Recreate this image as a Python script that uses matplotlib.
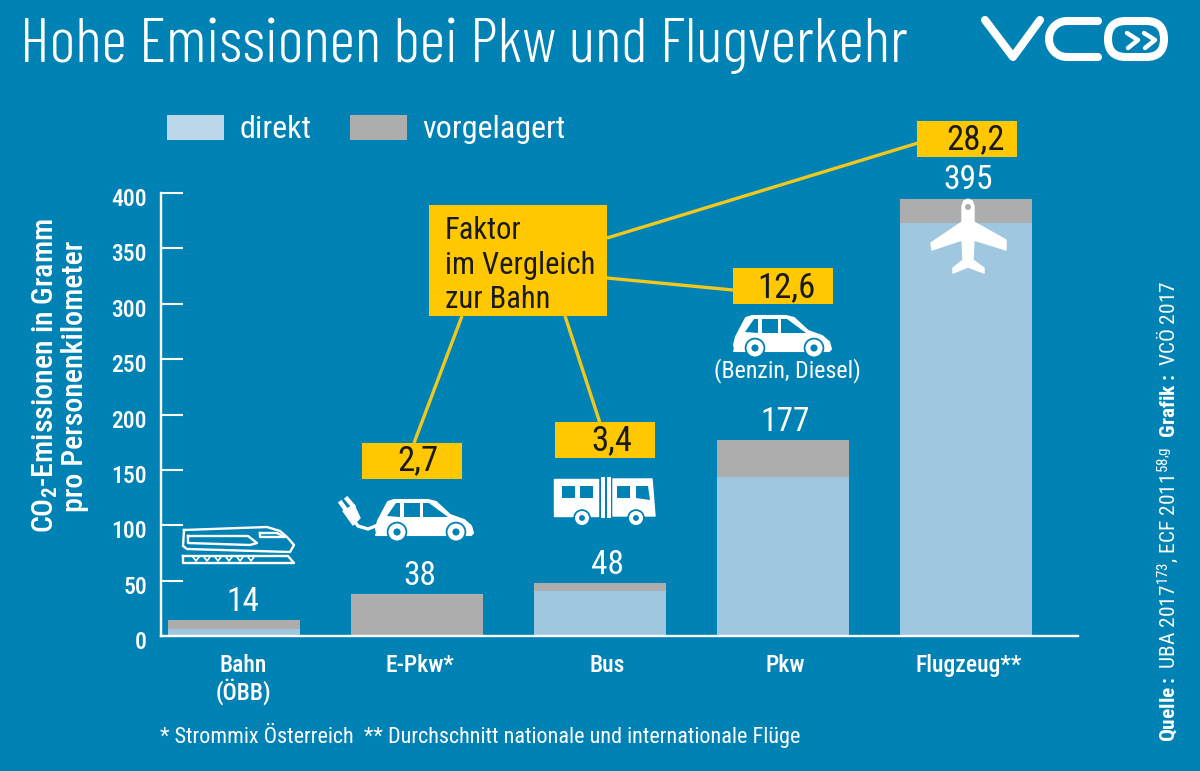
import numpy as np
import matplotlib
matplotlib.use('Agg')
import matplotlib.pyplot as plt
from matplotlib.patches import Polygon, Circle, Rectangle, FancyBboxPatch
from matplotlib.transforms import ScaledTranslation

plt.rcParams['font.family'] = ['Roboto Condensed', 'Roboto', 'DejaVu Sans']
plt.rcParams['mathtext.fontset'] = 'custom'
plt.rcParams['mathtext.rm'] = 'Roboto Condensed'
plt.rcParams['mathtext.bf'] = 'Roboto Condensed:bold'
plt.rcParams['mathtext.default'] = 'regular'

# data
categories = ['Bahn\n(ÖBB)', 'E-Pkw*', 'Bus', 'Pkw', 'Flugzeug**']
direkt = [6, 0, 41, 144, 373]
vorgelagert = [8, 38, 7, 33, 22]
totals = [14, 38, 48, 177, 395]
y_ticks = [0, 50, 100, 150, 200, 250, 300, 350, 400]
factors = ['2,7', '3,4', '12,6', '28,2']

BG = '#0082B4'
YELLOW = '#FFC800'
LINE_YELLOW = '#F0C81E'
C_DIREKT = '#9FC8E0'
C_VOR = '#ADADAD'
W, H = 1200, 771

fig = plt.figure(figsize=(12, 7.71), dpi=100, facecolor=BG)

# chart axes, placed in pixels of the 1200x771 image
ax = fig.add_axes([161 / W, 1 - 636 / H, (1078 - 161) / W, (636 - 193) / H], facecolor='none')
x = np.arange(len(categories))
ax.bar(x, direkt, width=0.72, color=C_DIREKT, label='direkt', zorder=2)
ax.bar(x, vorgelagert, width=0.72, bottom=direkt, color=C_VOR, label='vorgelagert', zorder=2)
ax.set_xlim(-0.399, 4.61)
ax.set_ylim(0, 400)

for s in ['top', 'right']:
    ax.spines[s].set_visible(False)
for s in ['left', 'bottom']:
    ax.spines[s].set_color('white')
    ax.spines[s].set_linewidth(1.7)
    ax.spines[s].set_zorder(3)

ax.set_yticks(y_ticks)
ax.tick_params(axis='y', direction='in', length=16, width=1.5, color='white',
               labelcolor='white', labelsize=17, pad=10)
ax.set_xticks(x)
ax.set_xticklabels(categories, fontsize=17, color='white', linespacing=1.05, fontweight='medium')
ax.tick_params(axis='x', length=0, pad=13)

# labels in the original sit a little off the ticks and bar centres
for lab in ax.get_yticklabels():
    lab.set_fontweight('medium')
    lab.set_transform(lab.get_transform() + ScaledTranslation(0, -4 / 100, fig.dpi_scale_trans))
label_dx = [9, 3, 7, 2, 2]
for lab, dx in zip(ax.get_xticklabels(), label_dx):
    lab.set_transform(lab.get_transform() + ScaledTranslation(dx / 100, 0, fig.dpi_scale_trans))

for xi, t, dx in zip(x, totals, label_dx):
    ax.annotate(str(t), (xi, t), xytext=(dx * 0.72, 13), textcoords='offset points',
                ha='center', va='center', color='white', fontsize=24, zorder=6)

ax.legend(loc='upper left', bbox_to_anchor=(167 / W, 1 - 115 / H), bbox_transform=fig.transFigure,
          ncols=2, frameon=False, fontsize=23, labelcolor='white', borderpad=0, borderaxespad=0,
          handlelength=1.78, handleheight=0.81, handletextpad=0.5, columnspacing=1.19)
ax.get_legend().get_patches()[0].set_facecolor('#BDD7EA')

# overlay in pixel coordinates for callouts, icons and notes
ov = fig.add_axes([0, 0, 1, 1], facecolor='none')
ov.set_xlim(0, W)
ov.set_ylim(H, 0)
ov.axis('off')

fig.text(20 / W, 1 - 62 / H, 'Hohe Emissionen bei Pkw und Flugverkehr', color='white',
         family=['Barlow Condensed', 'Roboto Condensed', 'DejaVu Sans'], weight=300,
         fontsize=45.2, ha='left', va='baseline')

fig.text(60 / W, 1 - 376 / H, 'CO$_{\\mathbf{2}}$-Emissionen in Gramm\npro Personenkilometer',
         rotation=90, color='white', fontsize=21.5, fontweight='medium', ha='center', va='center',
         linespacing=1.05, multialignment='center')
fig.text(160 / W, 1 - 735 / H, '* Strommix Österreich  ** Durchschnitt nationale und internationale Flüge',
         color='white', fontsize=15.9, ha='left', va='center')
fig.text(1168 / W, 1 - 742 / H,
         '$\\mathbf{Quelle{:}}$ UBA 2017$^{173}$, ECF 2011$^{58{,}g}$  $\\mathbf{Grafik{:}}$ VCÖ 2017',
         rotation=90, color='white', fontsize=15.4, ha='center', va='bottom')
ov.text(787, 371, '(Benzin, Diesel)', color='white', fontsize=17.3, ha='center', va='center', zorder=7)

# yellow callouts
for x0, y0, x1, y1 in [(607, 238, 918, 143), (607, 278, 733, 290), (462, 316, 414, 443), (565, 316, 600, 423)]:
    ov.plot([x0, x1], [y0, y1], color=LINE_YELLOW, lw=2.4, zorder=3, solid_capstyle='butt')
ov.add_patch(Rectangle((429, 205), 178, 111, color=YELLOW, lw=0, zorder=4))
ov.text(445, 265, 'Faktor\nim Vergleich\nzur Bahn', color='#1A1A1A', fontsize=22, va='center', ha='left',
        linespacing=1.25, zorder=5)
for (bx, by), (tx, ty), f in zip([(362, 443), (555, 422), (733, 268), (917, 121)],
                                 [(418, 461), (612, 441), (787, 288), (976, 140)], factors):
    ov.add_patch(Rectangle((bx, by), 100, 36, color=YELLOW, lw=0, zorder=4))
    ov.text(tx, ty, f, color='#1A1A1A', fontsize=25, ha='center', va='center', zorder=5)


def poly(pts, color='white', lw=0.5, z=7):
    ov.add_patch(Polygon(pts, closed=True, facecolor=color, edgecolor=color, lw=lw,
                         joinstyle='round', zorder=z))


def wheel(cx, cy, r=8.5):
    ov.add_patch(Circle((cx, cy), r + 1.8, color=BG, lw=0, zorder=8))
    ov.add_patch(Circle((cx, cy), r, color='white', lw=0, zorder=9))
    ov.add_patch(Circle((cx, cy), r * 0.42, color=BG, lw=0, zorder=10))


def car(x0, y0):
    body = [(1, 34), (0, 30), (2, 22), (12, 3), (18, 1), (52, 1), (60, 3), (74, 16), (88, 21), (95, 27),
            (97, 34), (95, 36), (0, 36)]
    poly([(x0 + a, y0 + b) for a, b in body], lw=1.5)
    for win in [[(11, 17), (20, 4), (24, 4), (24, 18)], [(28, 4), (44, 4), (44, 18), (28, 18)],
                [(47, 4), (53, 4), (72, 18), (47, 18)]]:
        poly([(x0 + a, y0 + b) for a, b in win], color=BG, lw=0, z=8)
    wheel(x0 + 21, y0 + 33)
    wheel(x0 + 80, y0 + 33)


car(734, 315)
car(376, 499)

# plug and cord of the e-car
ov.plot([352, 358, 368, 378], [518, 526, 529, 525], color='white', lw=2.4, zorder=7)
poly([(343, 511), (354, 505), (360, 518), (353, 525)], lw=1)
ov.plot([346, 341], [510, 503], color='white', lw=3.2, zorder=7)
ov.plot([353, 347], [506, 499], color='white', lw=3.2, zorder=7)

# bus
poly([(554, 479), (598, 479), (598, 516), (554, 516)], lw=1)
poly([(613, 479), (652, 479), (655, 516), (613, 516)], lw=1)
for sx in [601, 607]:
    ov.add_patch(Rectangle((sx, 477), 3.5, 41, color='white', lw=0, zorder=7))
for win in [[(562, 486), (575, 486), (575, 498), (562, 498)], [(580, 486), (593, 486), (593, 498), (580, 498)],
            [(617, 486), (630, 486), (630, 498), (617, 498)], [(636, 486), (648, 486), (650, 500), (636, 498)]]:
    poly(win, color=BG, lw=0, z=8)
wheel(582, 518, 7)
wheel(636, 518, 7)

# train, outline only
TRAIN = dict(color='white', lw=1.7, zorder=7, solid_joinstyle='round')
ov.plot([184, 267, 280, 287, 294, 290, 187, 183, 184], [530, 527, 531, 537, 545, 552, 549, 546, 530], **TRAIN)
ov.plot([188, 248, 257, 250, 188, 188], [536, 536, 543, 545, 543, 536], **TRAIN)
ov.plot([260, 277, 285, 260, 260], [533, 533, 537, 537, 533], **TRAIN)
ov.plot([183, 288, 294, 183, 183], [556, 556, 563, 563, 556], **TRAIN)
for wx in np.arange(196, 252, 11):
    ov.plot([wx - 3, wx, wx + 3], [557, 561, 557], color='white', lw=1.2, zorder=7)

# plane
plane = [(968, 199), (972, 201), (974, 206), (974, 222), (1006, 240), (1006, 250), (974, 240), (973, 260),
         (984, 268), (984, 273), (968, 267), (953, 273), (953, 268), (963, 260), (962, 240), (932, 250),
         (931, 243), (962, 222), (962, 206), (964, 201)]
poly(plane, lw=1)
ov.add_patch(Circle((968, 207), 3, color=C_VOR, lw=0, zorder=8))

# logo
LOGO = dict(color='white', lw=5.8, solid_capstyle='round', solid_joinstyle='round', zorder=7)
ov.plot([985, 1013, 1040], [20, 57, 20], **LOGO)
t = np.linspace(np.pi / 2, 3 * np.pi / 2, 30)
ov.plot(np.r_[1098, 1067 + 18 * np.cos(t), 1098], np.r_[21, 39 - 18 * np.sin(t), 57], **LOGO)
ov.add_patch(FancyBboxPatch((1108, 21), 56, 36, boxstyle='round,pad=0,rounding_size=18',
                            facecolor='none', edgecolor='white', lw=5.8, zorder=7))
CHEV = dict(color='white', lw=3.2, solid_capstyle='round', solid_joinstyle='round', zorder=7)
ov.plot([1127, 1138, 1128], [33, 40, 48], **CHEV)
ov.plot([1144, 1155, 1145], [33, 40, 48], **CHEV)

fig.savefig('out.png', dpi=100, facecolor=BG)
